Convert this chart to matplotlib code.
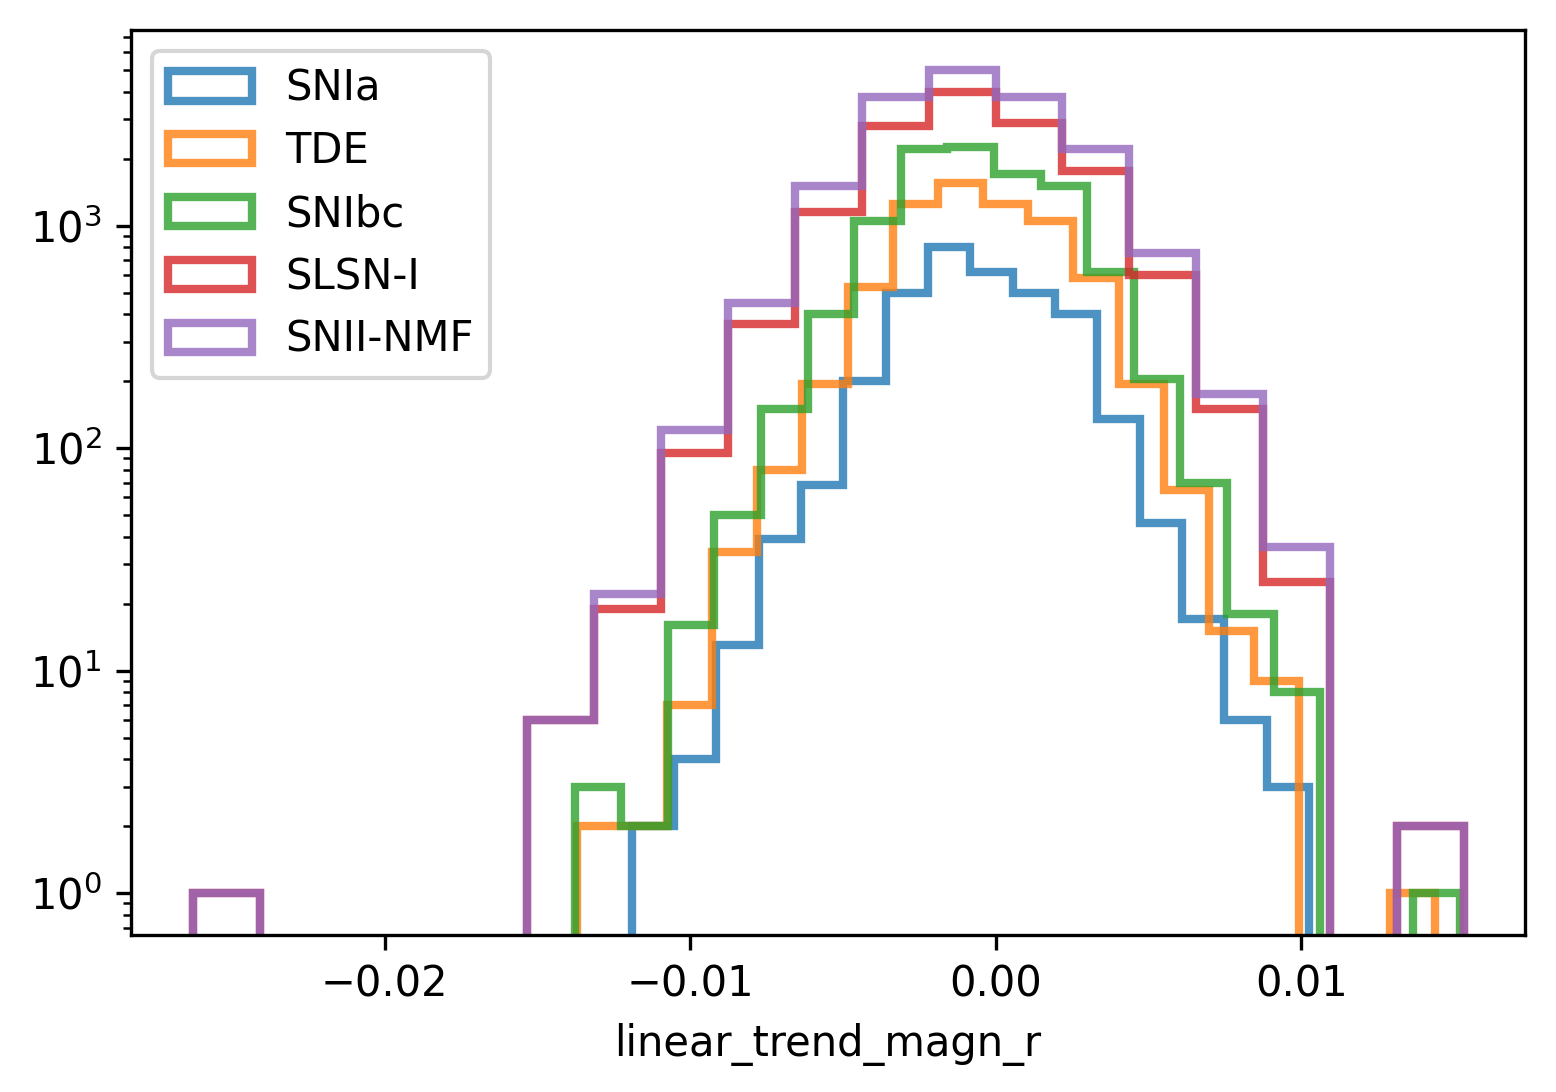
import numpy as np
import matplotlib
matplotlib.use("Agg")
import matplotlib.pyplot as plt

# bin ranges (each class has its own range) and per-bin counts
classes = ["SNIa", "TDE", "SNIbc", "SLSN-I", "SNII-NMF"]
ranges = {
    "SNIa": (-0.01191, 0.01025),
    "TDE": (-0.01372, 0.01437),
    "SNIbc": (-0.01378, 0.01519),
    "SLSN-I": (-0.02628, 0.01532),
    "SNII-NMF": (-0.02628, 0.01532),
}
counts = {
    "SNIa": [2, 4, 13, 39, 68, 200, 500, 800, 620, 500, 400, 135, 46, 17, 6, 3],
    "TDE": [2, 2, 7, 34, 80, 195, 530, 1250, 1550, 1250, 1050, 580, 195, 65, 15, 9, 0, 0, 1],
    "SNIbc": [3, 2, 16, 50, 150, 400, 1050, 2200, 2250, 1700, 1500, 620, 205, 70, 18, 8, 0, 0, 1],
    "SLSN-I": [1, 0, 0, 0, 0, 6, 19, 95, 360, 1150, 2800, 4000, 2900, 1750, 600, 150, 25, 0, 2],
    "SNII-NMF": [1, 0, 0, 0, 0, 6, 22, 120, 450, 1500, 3800, 5000, 3800, 2200, 750, 175, 36, 0, 2],
}

fig, ax = plt.subplots(figsize=(5.187, 3.64), dpi=300)
fig.subplots_adjust(left=0.084, right=0.980, top=0.9725, bottom=0.144)

for name in classes:
    c = np.array(counts[name], dtype=float)
    edges = np.linspace(ranges[name][0], ranges[name][1], len(c) + 1)
    centers = 0.5 * (edges[:-1] + edges[1:])
    ax.hist(centers, bins=edges, weights=c, histtype="step", linewidth=2,
            alpha=0.8, label=name)

ax.set_yscale("log")
ax.set_xlim(-0.02831, 0.01732)
ax.set_ylim(0.65, 7560)
ax.set_xlabel("linear_trend_magn_r")
ax.legend(loc="upper left")
plt.savefig("out.png", dpi=300)
